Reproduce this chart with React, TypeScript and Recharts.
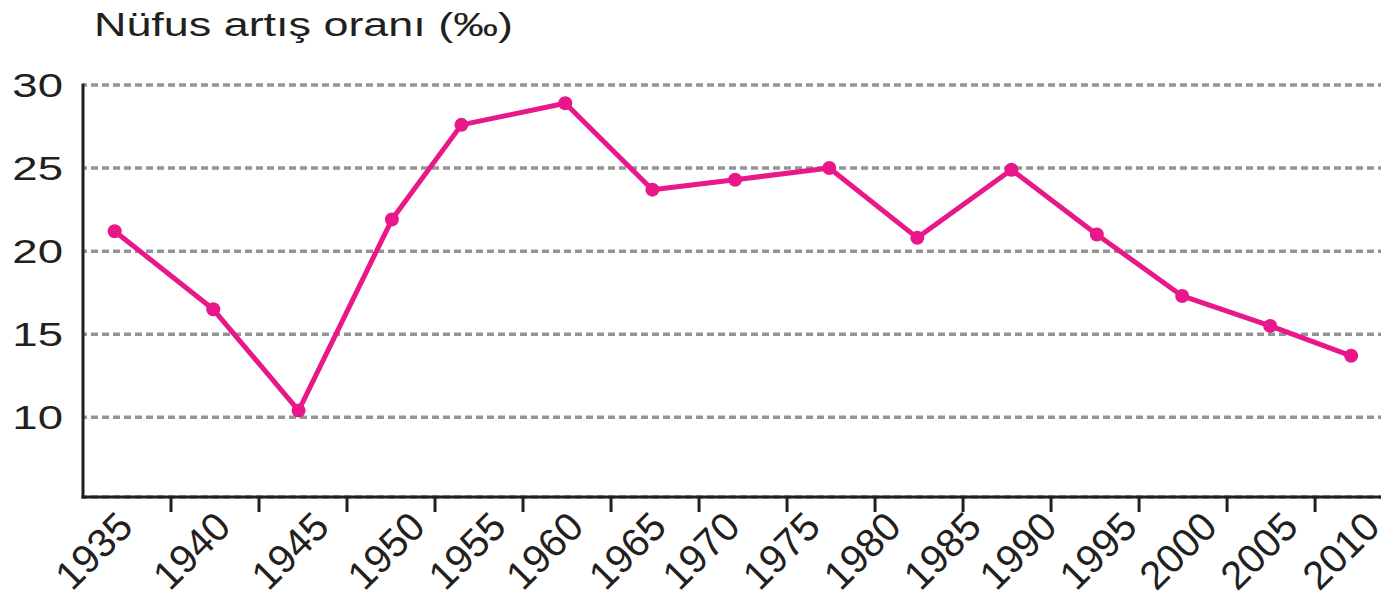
import React from "react";
import { LineChart, Line, XAxis, YAxis, CartesianGrid } from "recharts";

// x labels (census years) and the growth rate of each period between them (‰)
const years = [1935, 1940, 1945, 1950, 1955, 1960, 1965, 1970, 1975, 1980, 1985, 1990, 1995, 2000, 2005, 2010];
const rate = [21.2, 16.5, 10.4, 21.9, 27.6, 28.9, 23.7, 24.3, 25.0, 20.8, 24.9, 21.0, 17.3, 15.5, 13.7];

// where each point / each year label sits on the period axis
const ratePos = [0.36, 1.48, 2.45, 3.51, 4.3, 5.48, 6.47, 7.41, 8.48, 9.48, 10.55, 11.52, 12.49, 13.49, 14.41];
const yearPos = [0.58, 1.69, 2.81, 3.9, 4.82, 5.7, 6.64, 7.48, 8.39, 9.31, 10.22, 11.08, 11.99, 12.9, 13.82, 14.75];
const markTicks = [1, 2, 3, 4, 5, 6, 7, 8, 9, 10, 11, 12, 13, 14];
const yTicks = [10, 15, 20, 25, 30];

const data = rate.map((v, i) => ({ pos: ratePos[i], rate: v }));
const xTicks = [...markTicks, ...yearPos].sort((a, b) => a - b);

const INK = "#231f20";
const PINK = "#e8178a";
const FONT = "'Liberation Sans', Arial, sans-serif";
const STRETCH = 1.38;

const YTick = (props: any) => {
  const { x, y, payload } = props;
  return (
    <text
      x={0}
      y={0}
      dy="0.36em"
      textAnchor="end"
      fill={INK}
      fontSize={33}
      fontFamily={FONT}
      transform={`translate(${x},${y}) scale(${STRETCH},1)`}
    >
      {payload.value}
    </text>
  );
};

// one axis carries both the small tick marks and the rotated year labels
const XTick = (props: any) => {
  const { x, y, payload } = props;
  const yi = yearPos.indexOf(payload.value);
  if (yi < 0) {
    return <line x1={x} x2={x} y1={y} y2={y + 15} stroke={INK} strokeWidth={3} />;
  }
  return (
    <text
      x={0}
      y={0}
      textAnchor="end"
      fill={INK}
      fontSize={40}
      fontFamily={FONT}
      transform={`translate(${x + 1},${y + 32}) rotate(-45)`}
    >
      {years[yi]}
    </text>
  );
};

export default function App() {
  return (
    <div style={{ marginTop: -8, marginLeft: -8, marginBottom: -8, position: "relative", width: 1389, height: 612 }}>
      <div
        style={{
          position: "absolute",
          left: 94,
          top: 8,
          fontFamily: FONT,
          fontSize: 33,
          lineHeight: "33px",
          color: INK,
          whiteSpace: "nowrap",
          transform: "scaleX(1.36)",
          transformOrigin: "left top",
        }}
      >
        Nüfus artış oranı (‰)
      </div>
      <LineChart width={1389} height={612} data={data} margin={{ top: 85, right: 0, bottom: 0, left: 0 }}>
        <CartesianGrid
          vertical={false}
          stroke="#959595"
          strokeWidth={3.5}
          strokeDasharray="7 4"
          strokeDashoffset={3}
        />
        <XAxis
          dataKey="pos"
          type="number"
          domain={[0, 14.84]}
          ticks={xTicks}
          interval={0}
          height={115}
          tickSize={0}
          tickMargin={0}
          tickLine={false}
          axisLine={{ stroke: INK, strokeWidth: 3, strokeLinecap: "square" }}
          tick={<XTick />}
          allowDataOverflow
        />
        <YAxis
          domain={[5.2, 30]}
          ticks={yTicks}
          width={83}
          tickSize={0}
          tickMargin={20}
          tickLine={false}
          axisLine={{ stroke: INK, strokeWidth: 3, strokeLinecap: "square" }}
          tick={<YTick />}
          interval={0}
          allowDataOverflow
        />
        <Line
          dataKey="rate"
          stroke={PINK}
          strokeWidth={5}
          strokeLinejoin="round"
          dot={{ r: 7, fill: PINK, stroke: "none" }}
          activeDot={false}
          isAnimationActive={false}
        />
      </LineChart>
    </div>
  );
}
